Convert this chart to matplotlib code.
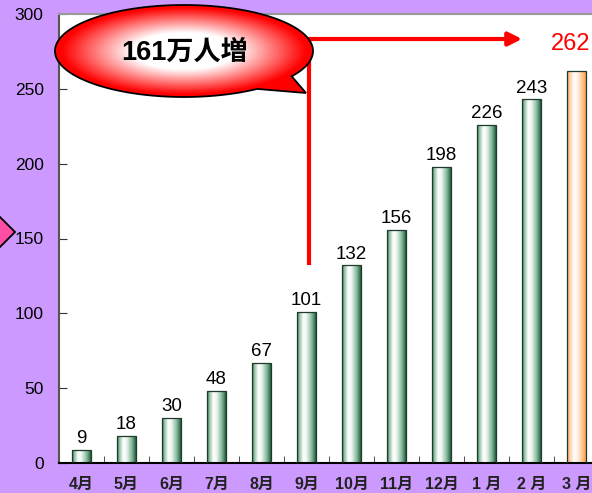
import numpy as np
import matplotlib
matplotlib.use('Agg')
import matplotlib.pyplot as plt
from matplotlib.colors import LinearSegmentedColormap
from matplotlib.patches import Polygon, PathPatch
from matplotlib.path import Path

months = ['4月', '5月', '6月', '7月', '8月', '9月', '10月', '11月', '12月', '1 月', '2 月', '3 月']
values = [9, 18, 30, 48, 67, 101, 132, 156, 198, 226, 243, 262]
highlight_index = 11
increase_label = '161万人増'
yticks = [0, 50, 100, 150, 200, 250, 300]

NUMFONT = ['Liberation Sans', 'Noto Sans CJK JP']

W, H = 592, 493
fig = plt.figure(figsize=(W / 100, H / 100), dpi=100)
fig.patch.set_facecolor('#CC99FF')
ax = fig.add_axes([59 / W, 30 / H, 540 / W, 449 / H])
ax.set_facecolor('white')

x = np.arange(len(months))
bars = ax.bar(x, values, width=0.42, facecolor='none', edgecolor='#1e3a2a',
              linewidth=0.9, zorder=3)
green = LinearSegmentedColormap.from_list('g', [(0, '#1f5b3d'), (0.1, '#86b99b'), (0.33, '#ffffff'),
                                                (0.5, '#eef7f1'), (0.8, '#7fb596'), (1, '#245f40')])
orange = LinearSegmentedColormap.from_list('o', [(0, '#ff9a40'), (0.12, '#ffc89a'), (0.38, '#ffffff'),
                                                 (0.55, '#fff3ea'), (0.85, '#ffbf88'), (1, '#ff9a40')])
grad = np.linspace(0, 1, 64).reshape(1, -1)
for i, b in enumerate(bars):
    cm = orange if i == highlight_index else green
    im = ax.imshow(grad, cmap=cm, extent=[b.get_x(), b.get_x() + b.get_width(), 0, b.get_height()],
                   aspect='auto', zorder=2, interpolation='bilinear')
    im.set_clip_path(b)

for i, v in enumerate(values):
    if i == highlight_index:
        continue
    ax.annotate(str(v), (x[i], v), xytext=(0, 2), textcoords='offset points', ha='center',
                va='bottom', fontsize=13.5, family=NUMFONT, color='black', zorder=4)

# highlighted last value
ax.text(10.86, 280, str(values[highlight_index]), color='red', fontsize=17, family=NUMFONT,
        ha='center', va='center', zorder=4)

ax.set_xlim(-0.5, 11.5)
ax.set_ylim(0, 300)
ax.set_yticks(yticks)
ax.set_xticks(x)
ax.set_xticklabels(months)
ax.set_xticks(np.arange(-0.5, 12, 1), minor=True)
ax.tick_params(axis='y', direction='in', length=6, pad=11, labelsize=12.5, color='#333333')
ax.tick_params(axis='x', which='major', length=0, pad=10, labelsize=11.5)
ax.tick_params(axis='x', which='minor', direction='in', length=5, color='#333333')
for lab in ax.get_xticklabels():
    lab.set_family(NUMFONT)
    lab.set_fontweight('bold')
    lab.set_color('#222222')
for lab in ax.get_yticklabels():
    lab.set_family(NUMFONT)
ax.spines['left'].set_color('#555555')
ax.spines['left'].set_linewidth(1.5)
ax.spines['bottom'].set_color('black')
ax.spines['bottom'].set_linewidth(1.5)
ax.spines['top'].set_color('#999999')
ax.spines['top'].set_linewidth(1.5)
ax.spines['right'].set_visible(False)

# red connector
xl = 5.056
ax.plot([xl, xl, 9.5], [132.3, 283.3, 283.3], color='red', lw=3, solid_capstyle='butt',
        solid_joinstyle='miter', zorder=5)
ax.annotate('', xy=(9.79, 283.3), xytext=(9.4, 283.3),
            arrowprops=dict(arrowstyle='-|>', color='red', lw=3, mutation_scale=20,
                            shrinkA=0, shrinkB=0), zorder=5)

# overlay in pixel coords
oax = fig.add_axes([0, 0, 1, 1])
oax.set_xlim(0, W)
oax.set_ylim(H, 0)
oax.axis('off')
oax.patch.set_visible(False)

cx, cy, a, bb = 184, 51, 129, 46
t = np.radians(np.linspace(55.5, 393.4, 200))
pts = np.column_stack([cx + a * np.cos(t), cy + bb * np.sin(t)])
pts = np.vstack([pts, [[306, 93]], pts[:1]])
codes = [Path.MOVETO] + [Path.LINETO] * (len(pts) - 2) + [Path.CLOSEPOLY]
bpath = Path(pts, codes)
bpatch = PathPatch(bpath, facecolor='none', edgecolor='black', lw=1.3, zorder=3)
oax.add_patch(bpatch)
X, Y = np.meshgrid(np.linspace(50, 320, 300), np.linspace(0, 100, 120))
r = np.clip(np.sqrt(((X - cx) / a) ** 2 + ((Y - cy) / bb) ** 2), 0, 1)
red = LinearSegmentedColormap.from_list('r', [(0, '#ffffff'), (0.4, '#ffffff'), (0.95, '#ff0000'),
                                              (1, '#ff0000')])
bim = oax.imshow(r, cmap=red, vmin=0, vmax=1, extent=[50, 320, 100, 0], aspect='auto',
                 zorder=2, interpolation='bilinear')
bim.set_clip_path(bpatch)
oax.text(185, 53, increase_label, ha='center', va='center', fontsize=19.5, fontweight='bold',
         family=NUMFONT, zorder=4)

# pink arrow tip at left
oax.add_patch(Polygon([[-5, 212], [15, 232], [-5, 252]], closed=True, facecolor='#FF4DA6',
                      edgecolor='black', lw=1.3, zorder=3))
oax.set_xlim(0, W)
oax.set_ylim(H, 0)

fig.savefig('out.png', dpi=100, facecolor=fig.get_facecolor())
